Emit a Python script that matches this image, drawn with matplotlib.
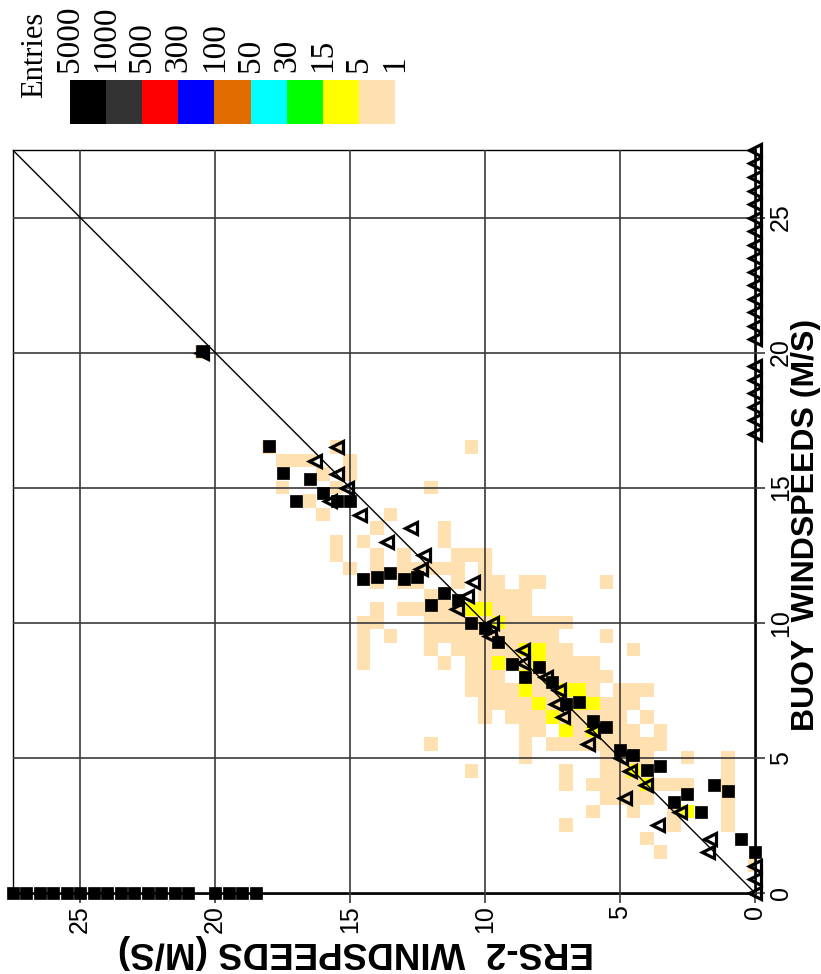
import numpy as np
import matplotlib.pyplot as plt
from matplotlib.colors import ListedColormap, BoundaryNorm

# bins of 0.5 m/s, 0 .. 27.5 m/s on both axes
bin_width = 0.5
n_bins = 56
bin_centres = np.arange(n_bins) * bin_width

# colour scale (entries per cell)
level_bounds = [1, 5, 15, 30, 50, 100, 300, 500, 1000, 5000]
level_colors = ['#ffe0b0', '#ffff00', '#00ff00', '#00ffff', '#e06c00',
                '#0000ff', '#ff0000', '#333333', '#000000']
level_labels = ['5000', '1000', '500', '300', '100', '50', '30', '15', '5', '1']

# 2d histogram: one string per buoy bin, from 17.0 m/s (top) down to 0 m/s
# columns are ERS-2 bins from 18.0 m/s (left) down to 0 m/s (right)
# '.' = empty, 'b' = 1-4 entries, 'y' = 5-14 entries
hist_rows = [
    '.......... .......... .......... .......',  # 17.0
    'b....b.... .....b.... .......... .......',  # 16.5
    '.bbb..b... .......... .......... .......',  # 16.0
    '....b.b... .......... .......... .......',  # 15.5
    '.b...b.... ..b....... .......... .......',  # 15.0
    '...b...... .......... .......... .......',  # 14.5
    '....b....b .......... .......... .......',  # 14.0
    '........b. ...b...... .......... .......',  # 13.5
    '.....b.b.. ...b...... .......... .......',  # 13.0
    '.....b..b. b...bbb... .......... .......',  # 12.5
    '......b.b. bbbbb.b... .......... .......',  # 12.0
    '........b. bb..b.bb.b b....b.... .......',  # 11.5
    '.......... ..bb..bbbb .......... .......',  # 11.0
    '........b. bbbbbyybbb .......... .......',  # 10.5
    '.......bb. ..bbbbbybb bbb....... .......',  # 10.0
    '.......b.b ..bbbbbbbb bb...b.... .......',  # 9.5
    '.......b.. ..b.bbbbby ybb....b.. .......',  # 9.0
    '.......b.. ...b.bbybb ybbbb..... .......',  # 8.5
    '.......... .....bbb.y bbbbbb.... .......',  # 8.0
    '.......... .....bbbby bbyyb.bbb. .......',  # 7.5
    '.......... ......bbbb ybbyybbb.. .......',  # 7.0
    '.......... ......b.bb bybbbbb.b. .......',  # 6.5
    '.......... .........b b.ybybbb.b .......',  # 6.0
    '.......... ..b......b .bbbbbbbbb .......',  # 5.5
    '.......... .........b .....bbbb. .b..b..',  # 5.0
    '.......... .....b.... ..b..bbyb. ....b..',  # 4.5
    '.......... .......... ..b.bbbbyb bb..b..',  # 4.0
    '.......... .......... .....bbbb. ....b..',  # 3.5
    '.......... .......... ....b..b.. by..b..',  # 3.0
    '.......... .......... ..b....... b...b..',  # 2.5
    '.......... .......... ........b. .......',  # 2.0
    '.......... .......... .........b .......',  # 1.5
    '.......... .......... .......... ......b',  # 1.0
    '.......... .......... .......... .......',  # 0.5
    '.......... .......... .......... .......',  # 0.0
]
# cells outside the block above: (ers, buoy, entries)
extra_cells = [(20.5, 20.0, 2)]

# filled squares: mean buoy speed for every ERS-2 bin (0 where the bin is empty)
square_buoy = [1.5, 2.0, 3.75, 4.0, 3.0, 3.65, 3.35, 4.7, 4.55, 5.1,
               5.3, 6.15, 6.35, 7.05, 7.0, 7.8, 8.35, 8.0, 8.45, 9.3,
               9.8, 10.0, 10.85, 11.1, 10.65, 11.7, 11.6, 11.85, 11.7, 11.6,
               14.5, 14.5, 14.8, 15.3, 14.5, 15.55, 16.55, 0, 0, 0,
               0, 20.05, 0, 0, 0, 0, 0, 0, 0, 0,
               0, 0, 0, 0, 0, 0]
# open triangles: mean ERS-2 speed for every buoy bin (0 where the bin is empty)
triangle_ers = [0, 0, 0, 1.72, 1.66, 3.6, 2.78, 4.82, 4.02, 4.64,
                4.95, 6.17, 5.98, 7.1, 7.35, 7.27, 7.73, 8.58, 8.59, 9.82,
                9.74, 11.05, 10.67, 10.46, 12.38, 12.24, 13.62, 12.74, 14.62, 15.74,
                15.1, 15.47, 16.3, 15.47, 0, 0, 0, 0, 0, 0,
                20.5, 0, 0, 0, 0, 0, 0, 0, 0, 0,
                0, 0, 0, 0, 0, 0]

ticks = [0, 5, 10, 15, 20, 25]
axis_max = 27.5

# build count array [buoy bin, ers bin]
cell_counts = {'.': 0, 'b': 2, 'y': 8}
H = np.zeros((n_bins, n_bins))
rows = [r.replace(' ', '') for r in hist_rows]
for r, row in enumerate(rows):
    j = len(rows) - 1 - r
    for k, ch in enumerate(row):
        i = len(row) - 1 - k
        H[j, i] = cell_counts[ch]
for ers, buoy, n in extra_cells:
    H[int(round(buoy / bin_width)), int(round(ers / bin_width))] = n
H = np.ma.masked_less(H, 1)

cmap = ListedColormap(level_colors)
norm = BoundaryNorm(level_bounds, cmap.N)

plt.rcParams['font.family'] = ['Liberation Sans', 'DejaVu Sans']

fig = plt.figure(figsize=(8.21, 9.74), dpi=100)
# the whole chart is turned by 90 degrees: ERS-2 runs right to left, buoy bottom to top
ax = fig.add_axes([0.0155, 0.0835, 0.9038, 0.7625])

edges = np.arange(n_bins + 1) * bin_width - bin_width / 2
ax.pcolormesh(edges, edges, H, cmap=cmap, norm=norm, zorder=1)

ax.plot([0, axis_max], [0, axis_max], color='black', lw=1.0, zorder=3)

ax.plot(triangle_ers, bin_centres, ls='none', marker='<', ms=8.5, mfc='none',
        mec='black', mew=2.3, zorder=4, clip_on=False)
ax.plot(bin_centres, square_buoy, ls='none', marker='s', ms=8.4, color='black',
        mew=0.5, zorder=5, clip_on=False)

ax.set_xlim(axis_max, 0)
ax.set_ylim(0, axis_max)
ax.set_xticks(ticks)
ax.set_yticks(ticks)
ax.yaxis.tick_right()
ax.set_axisbelow(False)
ax.grid(True, color='#3a3a3a', lw=1.2, zorder=2)
ax.tick_params(direction='out', length=7.2, width=1.2, color='#3a3a3a',
               labelsize=18, pad=1.5)
ax.tick_params(axis='x', labelrotation=90)
ax.tick_params(axis='y', labelrotation=90, pad=3)
for lab in ax.get_yticklabels():
    lab.set_va('center')
for side in ['left', 'top']:
    ax.spines[side].set_linewidth(1.0)
for side in ['right', 'bottom']:
    ax.spines[side].set_linewidth(2.0)

fig.text(0.982, 0.461, 'BUOY  WINDSPEEDS (M/S)', rotation=90, ha='center',
         va='center', fontsize=23, fontweight='bold')
fig.text(0.434, 0.0236, 'ERS-2  WINDSPEEDS (M/S)', rotation=180, ha='center',
         va='center', fontsize=26.5, fontweight='bold')

# colour key, darkest class on the left
cax = fig.add_axes([0.0853, 0.8727, 0.3958, 0.0452])
key_values = np.array([[np.sqrt(a * b) for a, b in
                        zip(level_bounds[::-1][:-1], level_bounds[::-1][1:])]])
cax.pcolormesh(np.arange(len(level_colors) + 1), [0, 1], key_values, cmap=cmap, norm=norm)
cax.set_xlim(0, len(level_colors))
cax.set_ylim(0, 1)
cax.axis('off')
for k, lab in enumerate(level_labels):
    cax.text(k, 1.18, lab, rotation=90, ha='center', va='bottom', fontsize=24,
             family='Liberation Serif', clip_on=False)
cax.text(-0.97, 0.59, 'Entries', rotation=90, ha='center', va='bottom',
         fontsize=22, family='Liberation Serif', clip_on=False)

fig.savefig('out.png', dpi=100)
